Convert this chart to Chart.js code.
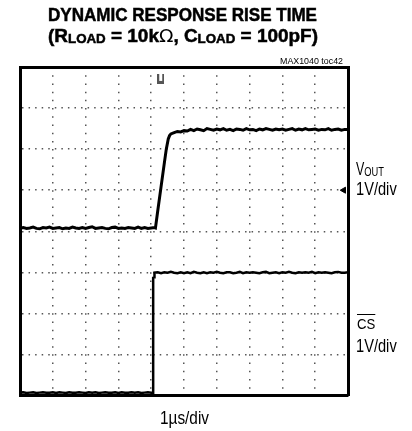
<!DOCTYPE html>
<html>
<head>
<meta charset="utf-8">
<script src="https://cdn.jsdelivr.net/npm/chart.js@4.4.1/dist/chart.umd.min.js"></script>
<style>
  body { margin: 0; background: #fff; }
  #wrap { position: relative; width: 412px; height: 431px; overflow: hidden; }
  #scope { position: absolute; left: 0; top: 0; }
  .txt {
    position: absolute;
    font-family: "Liberation Sans", Arial, sans-serif;
    line-height: 1;
    color: #000;
    white-space: nowrap;
    transform-origin: 0 50%;
  }
  .title { left: 48px; font-size: 18.5px; font-weight: bold; -webkit-text-stroke: 0.5px #000; }
  .sub { font-size: 13px; vertical-align: -1px; }
</style>
</head>
<body>
<div id="wrap">
  <canvas id="scope" width="412" height="431"></canvas>

  <div class="txt title" style="top:6px" data-w="269">DYNAMIC RESPONSE RISE TIME</div>
  <div class="txt title" style="top:27px" data-w="270">(R<span class="sub">LOAD</span> = 10k<span style="font-weight:normal;font-family:'DejaVu Sans';-webkit-text-stroke:0">Ω</span>, C<span class="sub">LOAD</span> = 100pF)</div>
  <div class="txt" style="top:56.8px; left:280px; font-size:8.5px" data-w="63">MAX1040 toc42</div>

  <div class="txt" style="left:356px; top:159.8px; font-size:18px" data-w="28">V<span style="font-size:13.5px; vertical-align:-1px">OUT</span></div>
  <div class="txt" style="left:356px; top:179.8px; font-size:18px" data-w="40.7">1V/div</div>

  <div class="txt" style="left:356.5px; top:316px; font-size:15.5px" data-w="18.3"><span style="text-decoration:overline">CS</span></div>
  <div class="txt" style="left:356px; top:336.8px; font-size:18px" data-w="40.7">1V/div</div>

  <div class="txt" style="left:159.5px; top:408.8px; font-size:18px" data-w="49">1µs/div</div>
</div>

<script>
// time axis in µs (1µs/div), vertical axis in divisions
const timeDivs = 10;
const voltDivs = 8;

// VOUT trace
const voutT = [
  0.0, 0.1, 0.2, 0.3, 0.4, 0.5, 0.6, 0.7, 0.8, 0.9,
  1.0, 1.1, 1.2, 1.3, 1.4, 1.5, 1.6, 1.7, 1.8, 1.9,
  2.0, 2.1, 2.2, 2.3, 2.4, 2.5, 2.6, 2.7, 2.8, 2.9,
  3.0, 3.1, 3.2, 3.3, 3.4, 3.5, 3.6, 3.7, 3.8, 3.9,
  4.0, 4.1, 4.13,
  4.2, 4.3, 4.4, 4.46, 4.52, 4.56, 4.6, 4.7, 4.8, 4.9,
  5.0, 5.1, 5.2, 5.3, 5.4, 5.5, 5.6, 5.7, 5.8, 5.9,
  6.0, 6.1, 6.2, 6.3, 6.4, 6.5, 6.6, 6.7, 6.8, 6.9,
  7.0, 7.1, 7.2, 7.3, 7.4, 7.5, 7.6, 7.7, 7.8, 7.9,
  8.0, 8.1, 8.2, 8.3, 8.4, 8.5, 8.6, 8.7, 8.8, 8.9,
  9.0, 9.1, 9.2, 9.3, 9.4, 9.5, 9.6, 9.7, 9.8, 9.9, 10.0
];
const voutV = [
  4.07, 4.09, 4.07, 4.08, 4.10, 4.07, 4.06, 4.09, 4.08, 4.10,
  4.07, 4.08, 4.09, 4.06, 4.08, 4.07, 4.10, 4.08, 4.07, 4.09,
  4.07, 4.09, 4.11, 4.07, 4.08, 4.09, 4.07, 4.06, 4.09, 4.10,
  4.07, 4.08, 4.07, 4.09, 4.08, 4.07, 4.10, 4.07, 4.09, 4.07,
  4.08, 4.09, 4.08,
  4.50, 5.08, 5.66, 6.00, 6.25, 6.33, 6.37, 6.40, 6.43, 6.42,
  6.45, 6.44, 6.48, 6.45, 6.49, 6.47, 6.45, 6.50, 6.48, 6.46,
  6.49, 6.47, 6.50, 6.46, 6.48, 6.45, 6.49, 6.48, 6.46, 6.50,
  6.47, 6.48, 6.45, 6.49, 6.47, 6.50, 6.48, 6.46, 6.49, 6.47,
  6.49, 6.46, 6.48, 6.50, 6.46, 6.49, 6.47, 6.50, 6.47, 6.48,
  6.49, 6.46, 6.48, 6.47, 6.50, 6.46, 6.48, 6.49, 6.46, 6.48, 6.48
];

// CS trace (logic edge)
const csT = [
  0.0, 0.1, 0.2, 0.3, 0.4, 0.5, 0.6, 0.7, 0.8, 0.9,
  1.0, 1.1, 1.2, 1.3, 1.4, 1.5, 1.6, 1.7, 1.8, 1.9,
  2.0, 2.1, 2.2, 2.3, 2.4, 2.5, 2.6, 2.7, 2.8, 2.9,
  3.0, 3.1, 3.2, 3.3, 3.4, 3.5, 3.6, 3.7, 3.8, 3.9,
  4.0, 4.06, 4.06, 4.09, 4.1,
  4.2, 4.3, 4.4, 4.5, 4.6, 4.7, 4.8, 4.9,
  5.0, 5.1, 5.2, 5.3, 5.4, 5.5, 5.6, 5.7, 5.8, 5.9,
  6.0, 6.1, 6.2, 6.3, 6.4, 6.5, 6.6, 6.7, 6.8, 6.9,
  7.0, 7.1, 7.2, 7.3, 7.4, 7.5, 7.6, 7.7, 7.8, 7.9,
  8.0, 8.1, 8.2, 8.3, 8.4, 8.5, 8.6, 8.7, 8.8, 8.9,
  9.0, 9.1, 9.2, 9.3, 9.4, 9.5, 9.6, 9.7, 9.8, 9.9, 10.0
];
const csV = [
  0.07, 0.08, 0.06, 0.07, 0.08, 0.06, 0.07, 0.08, 0.07, 0.07,
  0.08, 0.06, 0.08, 0.07, 0.06, 0.08, 0.07, 0.07, 0.08, 0.07,
  0.06, 0.08, 0.07, 0.08, 0.06, 0.07, 0.08, 0.07, 0.07, 0.08,
  0.06, 0.08, 0.07, 0.07, 0.08, 0.07, 0.08, 0.06, 0.07, 0.08,
  0.07, 0.07, 2.87, 2.88, 2.99,
  3.00, 2.98, 3.00, 2.99, 3.01, 2.99, 2.98, 3.00,
  2.98, 3.00, 2.98, 3.01, 2.99, 2.98, 3.00, 2.98, 3.00, 2.99,
  3.01, 2.99, 2.98, 3.00, 3.00, 2.98, 2.99, 3.01, 2.98, 3.00,
  2.99, 3.00, 2.99, 2.98, 3.00, 3.01, 2.98, 2.99, 3.00, 2.98,
  3.00, 2.99, 3.01, 2.99, 2.98, 3.00, 2.99, 3.00, 2.99, 3.01,
  2.98, 3.00, 2.99, 3.00, 2.99, 2.98, 3.00, 3.01, 2.99, 2.99, 3.00
];

// scope screen markers: trigger position and channel reference arrow
const trigMark = { t: 4.29, v: 7.71 };
const refMark = { t: 9.87, v: 5.0 };

const toPoints = (ts, vs) => ts.map((t, i) => ({ x: t, y: vs[i] }));

// squeeze labels to the condensed widths of the sheet font
document.querySelectorAll('[data-w]').forEach(el => {
  const w = el.getBoundingClientRect().width;
  el.style.transform = 'scaleX(' + (el.dataset.w / w) + ')';
});

// small "U" glyph used as the trigger marker
const trigIcon = document.createElement('canvas');
trigIcon.width = 7;
trigIcon.height = 10;
(function () {
  const g = trigIcon.getContext('2d');
  g.fillStyle = '#555';
  g.fillRect(0, 0, 7, 10);
  g.fillStyle = '#fff';
  g.fillRect(2, 0, 3, 7);
})();

const gridColor = '#555';

const frameAxis = (pos, max) => ({
  type: 'linear',
  position: pos,
  min: 0,
  max: max,
  ticks: { display: false },
  grid: { display: false, drawTicks: false },
  border: { display: true, width: 3, color: '#000' }
});

new Chart(document.getElementById('scope'), {
  type: 'line',
  data: {
    datasets: [
      {
        label: 'VOUT',
        data: toPoints(voutT, voutV),
        borderColor: '#000',
        borderWidth: 3,
        pointRadius: 0,
        tension: 0
      },
      {
        label: 'CS',
        data: toPoints(csT, csV),
        borderColor: '#000',
        borderWidth: 2.5,
        pointRadius: 0,
        tension: 0
      },
      {
        label: 'trigger',
        data: [{ x: trigMark.t, y: trigMark.v }],
        showLine: false,
        pointStyle: trigIcon,
        pointRadius: 5
      },
      {
        label: 'ref',
        data: [{ x: refMark.t, y: refMark.v }],
        showLine: false,
        pointStyle: 'triangle',
        rotation: -90,
        pointRadius: 3.5,
        backgroundColor: '#000',
        borderColor: '#000',
        borderWidth: 1
      }
    ]
  },
  options: {
    responsive: false,
    animation: false,
    devicePixelRatio: 1,
    layout: { padding: { left: 20, top: 67, right: 64, bottom: 35.5 } },
    plugins: { legend: { display: false }, tooltip: { enabled: false } },
    scales: {
      x: {
        type: 'linear',
        min: 0,
        max: timeDivs,
        ticks: { display: false, stepSize: 1 },
        grid: { color: gridColor, lineWidth: 1.5, drawTicks: false },
        border: { display: true, width: 3, color: '#000', dash: [1.5, 6.71] }
      },
      y: {
        type: 'linear',
        min: 0,
        max: voltDivs,
        ticks: { display: false, stepSize: 1 },
        grid: { color: gridColor, lineWidth: 1.5, drawTicks: false },
        border: { display: true, width: 3, color: '#000', dash: [1.5, 5.06] }
      },
      x2: frameAxis('top', timeDivs),
      y2: frameAxis('right', voltDivs)
    }
  }
});
</script>
</body>
</html>
